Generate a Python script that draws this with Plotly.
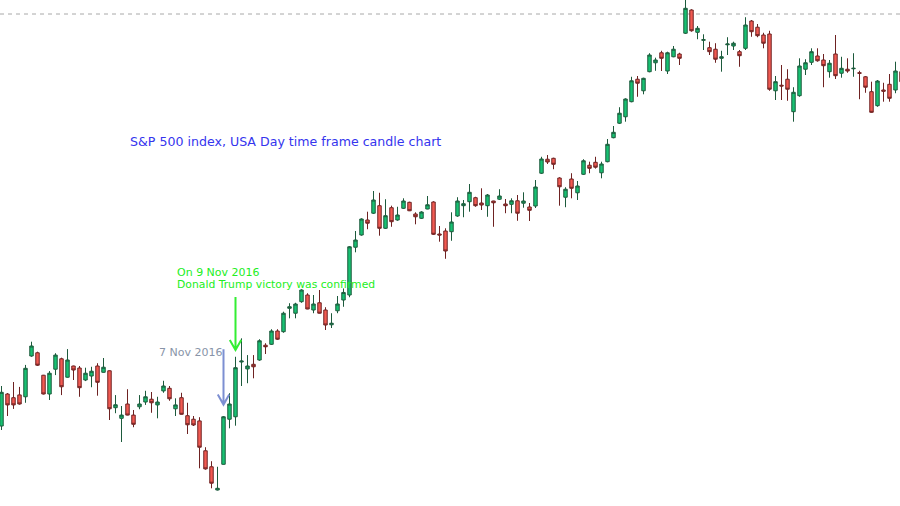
import plotly.graph_objects as go

# Daily S&P 500 candles (session index)
opens = [2124.1, 2144.9, 2142.5, 2144.3, 2143.1, 2169.6, 2171.7, 2157.1, 2144.9, 2161.0,
         2167.8, 2155.8, 2163.1, 2161.8, 2154.0, 2156.6, 2163.1, 2159.0, 2160.0, 2136.0,
         2129.1, 2138.4, 2131.2, 2136.6, 2139.7, 2141.5, 2137.8, 2146.9, 2148.6, 2135.3,
         2142.5, 2130.8, 2128.5, 2127.4, 2108.0, 2097.6, 2082.5, 2099.2, 2128.5, 2130.1,
         2165.7, 2161.2, 2164.2, 2167.0, 2176.6, 2177.2, 2185.85, 2185.4, 2200.6, 2197.4,
         2204.9, 2209.25, 2199.5, 2204.2, 2199.5, 2189.9, 2199.0, 2206.0, 2209.25, 2240.3,
         2248.25, 2258.0, 2262.4, 2267.3, 2252.6, 2266.0, 2258.0, 2265.6, 2269.5, 2261.9,
         2259.1, 2265.15, 2269.7, 2248.9, 2250.85, 2250.4, 2260.6, 2267.3, 2269.9, 2272.5,
         2269.05, 2267.3, 2270.35, 2271.5, 2268.4, 2268.2, 2270.5, 2268.9, 2266.45, 2267.1,
         2288.4, 2297.5, 2298.1, 2285.3, 2272.8, 2284.65, 2275.7, 2287.7, 2293.6, 2295.5,
         2288.7, 2295.9, 2311.5, 2320.9, 2325.1, 2334.9, 2349.5, 2342.0, 2354.4, 2360.2,
         2366.7, 2354.85, 2364.1, 2365.9, 2379.4, 2394.5, 2380.0, 2374.8, 2370.0, 2369.0,
         2363.1, 2371.9, 2371.1, 2367.4, 2369.6, 2387.35, 2383.3, 2378.25, 2378.9, 2342.0,
         2345.6, 2349.5, 2328.4, 2338.8, 2356.0, 2360.5, 2364.6, 2362.0, 2354.4, 2365.9,
         2353.4, 2356.0, 2356.3, 2353.7, 2351.1, 2341.4, 2332.3, 2342.5, 2346.2, 2342.5,
         2354.4]
highs = [2150.1, 2145.5, 2152.7, 2149.5, 2163.8, 2178.9, 2172.4, 2157.3, 2159.8, 2171.4,
         2168.5, 2174.1, 2163.3, 2163.1, 2162.0, 2162.6, 2164.9, 2168.3, 2160.2, 2144.2,
         2137.1, 2148.0, 2134.5, 2144.2, 2147.0, 2146.2, 2143.1, 2153.5, 2150.1, 2142.1,
         2145.7, 2139.2, 2130.6, 2129.8, 2110.3, 2101.2, 2097.6, 2130.6, 2145.4, 2169.1,
         2181.1, 2170.2, 2170.2, 2180.5, 2177.9, 2187.0, 2187.0, 2198.4, 2203.9, 2204.2,
         2213.0, 2210.4, 2209.25, 2212.5, 2201.3, 2197.4, 2208.6, 2213.5, 2241.1, 2250.85,
         2259.1, 2263.4, 2276.85, 2275.7, 2271.5, 2267.3, 2266.6, 2272.1, 2269.9, 2263.0,
         2263.7, 2273.6, 2270.2, 2254.1, 2252.6, 2263.0, 2272.8, 2271.0, 2281.4, 2273.1,
         2278.6, 2274.9, 2270.5, 2278.0, 2271.65, 2272.1, 2274.25, 2276.0, 2269.05, 2284.0,
         2299.1, 2300.25, 2298.5, 2285.8, 2279.3, 2288.4, 2283.35, 2297.5, 2295.9, 2299.1,
         2295.9, 2310.65, 2319.1, 2331.3, 2337.1, 2351.1, 2351.6, 2350.5, 2366.4, 2363.5,
         2368.0, 2367.4, 2371.1, 2366.7, 2403.0, 2395.0, 2384.1, 2378.7, 2373.9, 2372.9,
         2368.0, 2376.8, 2373.9, 2368.5, 2389.8, 2388.0, 2385.4, 2379.7, 2381.0, 2351.6,
         2358.75, 2356.0, 2344.3, 2363.1, 2362.5, 2369.6, 2369.6, 2365.9, 2362.0, 2378.25,
         2364.1, 2363.1, 2366.4, 2355.0, 2351.6, 2347.9, 2349.0, 2347.2, 2352.9, 2360.9,
         2355.5]
lows = [2121.5, 2130.6, 2135.2, 2138.0, 2139.2, 2169.1, 2163.1, 2144.6, 2141.0, 2157.2,
        2144.2, 2155.5, 2154.0, 2143.1, 2153.3, 2149.3, 2143.8, 2158.8, 2128.0, 2132.4,
        2113.7, 2131.0, 2123.3, 2135.0, 2137.8, 2132.7, 2129.1, 2145.7, 2140.5, 2130.6,
        2131.5, 2118.9, 2124.1, 2096.6, 2095.7, 2083.6, 2082.2, 2099.0, 2122.6, 2124.3,
        2150.1, 2151.9, 2155.1, 2166.5, 2170.9, 2176.75, 2180.0, 2184.7, 2194.1, 2194.1,
        2204.2, 2200.0, 2197.4, 2197.2, 2186.5, 2187.8, 2197.4, 2201.6, 2207.8, 2237.0,
        2247.8, 2252.0, 2261.9, 2247.8, 2252.15, 2253.6, 2257.5, 2265.15, 2263.8, 2255.2,
        2258.65, 2265.0, 2248.25, 2243.9, 2232.8, 2244.5, 2260.1, 2259.8, 2263.4, 2266.6,
        2264.5, 2260.1, 2253.6, 2271.0, 2262.4, 2262.4, 2257.5, 2266.0, 2257.35, 2265.8,
        2287.9, 2294.4, 2291.0, 2267.3, 2266.3, 2272.1, 2271.0, 2287.25, 2288.4, 2291.4,
        2285.1, 2295.5, 2311.1, 2320.4, 2321.9, 2334.5, 2338.1, 2339.7, 2354.0, 2355.0,
        2354.85, 2352.9, 2363.8, 2358.75, 2378.9, 2380.4, 2375.5, 2368.5, 2365.25, 2360.2,
        2354.4, 2365.25, 2368.5, 2357.6, 2368.5, 2377.1, 2376.8, 2369.6, 2342.0, 2336.0,
        2336.0, 2335.5, 2321.9, 2338.1, 2352.25, 2358.75, 2360.9, 2344.3, 2350.5, 2349.65,
        2350.5, 2353.7, 2351.1, 2336.5, 2340.7, 2327.7, 2331.6, 2334.9, 2334.9, 2340.4,
        2347.0]
closes = [2146.0, 2137.8, 2137.8, 2138.4, 2161.6, 2176.1, 2163.6, 2144.9, 2158.4, 2170.2,
          2149.6, 2167.0, 2160.5, 2149.0, 2158.4, 2159.7, 2152.5, 2162.3, 2135.3, 2137.9,
          2131.2, 2131.2, 2125.2, 2138.4, 2143.1, 2139.2, 2139.7, 2150.1, 2141.8, 2137.8,
          2131.7, 2124.9, 2124.75, 2110.3, 2096.2, 2086.9, 2083.6, 2130.1, 2138.4, 2162.0,
          2166.3, 2163.1, 2162.6, 2179.5, 2175.6, 2185.85, 2180.5, 2197.4, 2201.6, 2203.4,
          2212.5, 2200.15, 2203.4, 2197.4, 2189.75, 2190.9, 2203.4, 2210.9, 2240.6, 2245.0,
          2258.65, 2255.9, 2271.0, 2252.6, 2260.8, 2256.9, 2261.25, 2270.35, 2264.0, 2260.1,
          2263.2, 2267.9, 2248.7, 2248.25, 2237.85, 2256.7, 2270.35, 2268.6, 2276.0, 2267.3,
          2267.75, 2274.25, 2269.2, 2273.6, 2267.3, 2270.5, 2262.4, 2270.35, 2264.3, 2279.45,
          2297.65, 2295.7, 2294.2, 2279.6, 2278.0, 2278.6, 2280.1, 2296.5, 2291.6, 2292.3,
          2294.4, 2307.2, 2315.0, 2327.4, 2336.65, 2348.5, 2346.9, 2350.1, 2365.25, 2362.0,
          2363.1, 2366.7, 2369.0, 2363.1, 2395.6, 2381.0, 2382.6, 2375.2, 2367.4, 2362.5,
          2364.1, 2372.4, 2372.9, 2364.8, 2384.75, 2380.4, 2377.8, 2372.9, 2343.0, 2347.9,
          2345.1, 2343.0, 2341.0, 2358.1, 2360.2, 2367.4, 2361.5, 2358.3, 2359.9, 2351.8,
          2356.6, 2354.85, 2356.6, 2353.4, 2344.3, 2328.0, 2348.35, 2341.7, 2337.1, 2354.85,
          2347.9]
session = list(range(len(opens)))

ref_level = 2391.9          # dashed horizontal level
nov7_session, nov9_session = 37, 39
title_text = "S&P 500 index, USA Day time frame candle chart"
nov9_line1 = "On 9 Nov 2016"
nov9_line2 = "Donald Trump victory was confirmed"
nov7_text = "7 Nov 2016"

fig = go.Figure()
fig.add_trace(go.Candlestick(
    x=session, open=opens, high=highs, low=lows, close=closes,
    increasing=dict(fillcolor="#17c172", line=dict(color="#1d5a3c", width=1)),
    decreasing=dict(fillcolor="#f25a52", line=dict(color="#6e2222", width=1)),
    whiskerwidth=0, showlegend=False, hoverinfo="skip",
))

# dashed level line
fig.add_shape(type="line", xref="paper", x0=0, x1=1, yref="y", y0=ref_level, y1=ref_level,
              line=dict(color="#a8a8a8", width=1, dash="4px,4px"), layer="below")

# arrows (vertical line + open V head)
def arrow(xc, y_top, y_tip, color):
    fig.add_shape(type="path", xref="x", yref="y",
                  path=f"M {xc},{y_top} L {xc},{y_tip} M {xc-0.95},{y_tip+6.5} L {xc},{y_tip} L {xc+0.95},{y_tip+6.5}",
                  line=dict(color=color, width=2))

arrow(nov9_session, 2208.0, 2173.5, "#33ee33")
arrow(nov7_session, 2174.0, 2138.0, "#7d8fd2")

def label(text, x_px, y_px, size, color):
    fig.add_annotation(text=text, xref="paper", yref="paper", x=x_px/900, y=1-y_px/506,
                       xanchor="left", yanchor="middle", showarrow=False,
                       font=dict(family="DejaVu Sans", size=size, color=color))

label(title_text, 128, 142, 12.6, "#3535ee")
label(nov9_line1, 175, 272, 11, "#22ee22")
label(nov9_line2, 175, 284, 10.8, "#22ee22")
label(nov7_text, 157, 352, 11, "#8894a8")

fig.update_layout(
    width=900, height=506, margin=dict(l=0, r=0, t=0, b=0),
    paper_bgcolor="white", plot_bgcolor="white", boxgap=0.18,
    xaxis=dict(range=[-0.25, 149.75], visible=False, rangeslider=dict(visible=False),
               showgrid=False, zeroline=False),
    yaxis=dict(range=[2072.1, 2401.0], visible=False, showgrid=False, zeroline=False),
)
fig.write_html("out.html", config={"displayModeBar": False},
               post_script="document.body.style.margin='0';document.body.style.overflow='hidden';")
